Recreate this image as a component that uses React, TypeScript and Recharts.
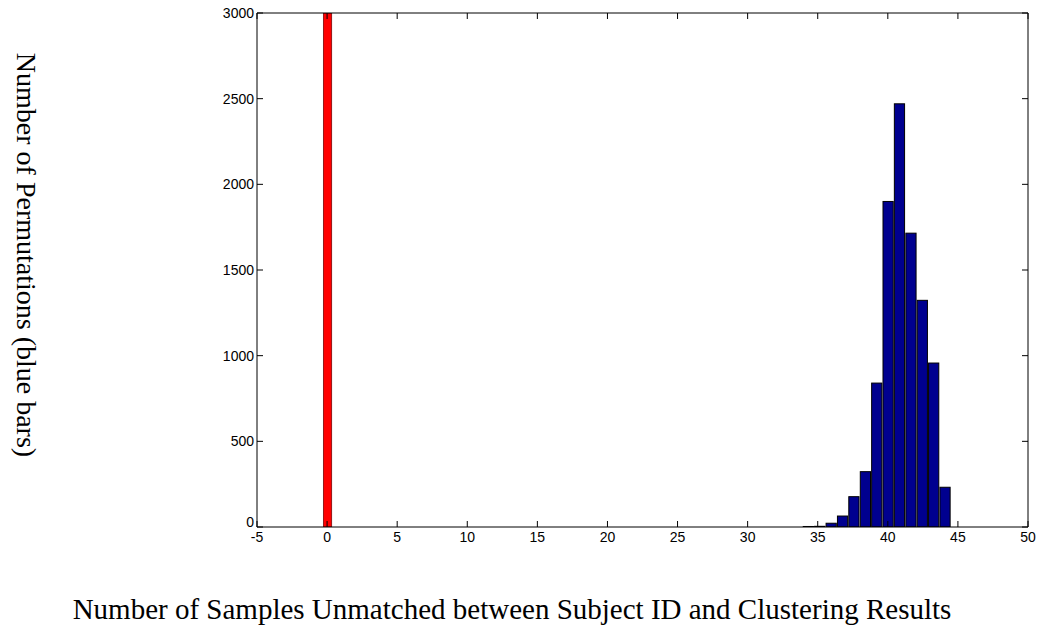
import React from "react";
import { BarChart, Bar, XAxis, YAxis } from "recharts";

// histogram of unmatched samples over random permutations (blue) + observed value (red)
const binCenters = [34.3, 35.11, 35.93, 36.74, 37.55, 38.37, 39.18, 39.99, 40.8, 41.62, 42.43, 43.24, 44.05];
const permCounts = [3, 4, 22, 64, 177, 323, 840, 1900, 2470, 1715, 1323, 957, 232];
const observedX = [0];
const observedCount = [3000];
const xTicks = [-5, 0, 5, 10, 15, 20, 25, 30, 35, 40, 45, 50];
const yTicks = [0, 500, 1000, 1500, 2000, 2500, 3000];

const data = [
  ...observedX.map((x, i) => ({ x, count: observedCount[i], kind: "observed" })),
  ...binCenters.map((x, i) => ({ x, count: permCounts[i], kind: "perm" })),
];

const W = 1041;
const H = 630;
const tickFamily = "'Liberation Sans', Arial, sans-serif";
const tickFont = { fill: "#000", fontSize: 14, fontFamily: tickFamily };
const titleFont = "'Liberation Serif', 'Times New Roman', serif";
const blank = () => "";

function HistBar(props: any) {
  const { x, y, width, height, payload } = props;
  if (height == null || width == null) return null;
  const observed = payload?.kind === "observed";
  const w = observed ? width * 0.82 : width;
  const left = x + (width - w) / 2;
  return (
    <rect
      x={left}
      y={y}
      width={w}
      height={Math.max(height, 0)}
      fill={observed ? "#ff0000" : "#00008f"}
      stroke={observed ? "#600" : "#000"}
      strokeWidth={observed ? 0.7 : 1}
    />
  );
}

// y tick label; the "0" sits a bit higher so it clears the "-5" below it
function YTick(props: any) {
  const { x, y, payload } = props;
  const v = payload?.value;
  return (
    <text x={x} y={v === 0 ? y - 5 : y} dy="0.355em" textAnchor="end" fill="#000" fontSize={14} fontFamily={tickFamily}>
      {v}
    </text>
  );
}

export default function App() {
  return (
    <div style={{ position: "absolute", left: 0, top: 0, width: W, height: H, background: "#fff" }}>
      <BarChart
        width={W}
        height={H}
        data={data}
        margin={{ top: 13, right: 13, bottom: 102, left: 256 }}
        barCategoryGap={0}
      >
        {/* labelled axes */}
        <XAxis
          xAxisId="b"
          dataKey="x"
          type="number"
          domain={[-5, 50]}
          allowDataOverflow
          ticks={xTicks}
          interval={0}
          height={1}
          tickSize={0}
          tickMargin={5}
          tick={tickFont}
          stroke="#000"
        />
        <YAxis
          yAxisId="l"
          type="number"
          domain={[0, 3000]}
          allowDataOverflow
          ticks={yTicks}
          interval={0}
          width={1}
          tickSize={0}
          tickMargin={3}
          tick={<YTick />}
          stroke="#000"
        />
        {/* inward tick marks on all four sides */}
        <XAxis xAxisId="bt" dataKey="x" type="number" domain={[-5, 50]} allowDataOverflow ticks={xTicks} interval={0}
          height={1} mirror tickSize={6} tickFormatter={blank} axisLine={false} stroke="#000" />
        <XAxis xAxisId="t" dataKey="x" orientation="top" type="number" domain={[-5, 50]} allowDataOverflow ticks={xTicks}
          interval={0} height={1} mirror tickSize={6} tickFormatter={blank} stroke="#000" />
        <YAxis yAxisId="lt" type="number" domain={[0, 3000]} allowDataOverflow ticks={yTicks} interval={0}
          width={1} mirror tickSize={6} tickFormatter={blank} axisLine={false} stroke="#000" />
        <YAxis yAxisId="r" orientation="right" type="number" domain={[0, 3000]} allowDataOverflow ticks={yTicks}
          interval={0} width={1} mirror tickSize={6} tickFormatter={blank} stroke="#000" />
        <Bar
          xAxisId="b"
          yAxisId="l"
          dataKey="count"
          barSize={11.4}
          shape={HistBar}
          isAnimationActive={false}
        />
      </BarChart>
      <div
        style={{
          position: "absolute",
          left: 26,
          top: 255,
          transform: "translate(-50%, -50%) rotate(90deg)",
          whiteSpace: "nowrap",
          fontFamily: titleFont,
          fontSize: 28,
          lineHeight: 1,
          color: "#000",
        }}
      >
        Number of Permutations (blue bars)
      </div>
      <div
        style={{
          position: "absolute",
          left: 512,
          top: 595,
          transform: "translateX(-50%)",
          whiteSpace: "nowrap",
          fontFamily: titleFont,
          fontSize: 29,
          lineHeight: 1,
          color: "#000",
        }}
      >
        Number of Samples Unmatched between Subject ID and Clustering Results
      </div>
    </div>
  );
}
